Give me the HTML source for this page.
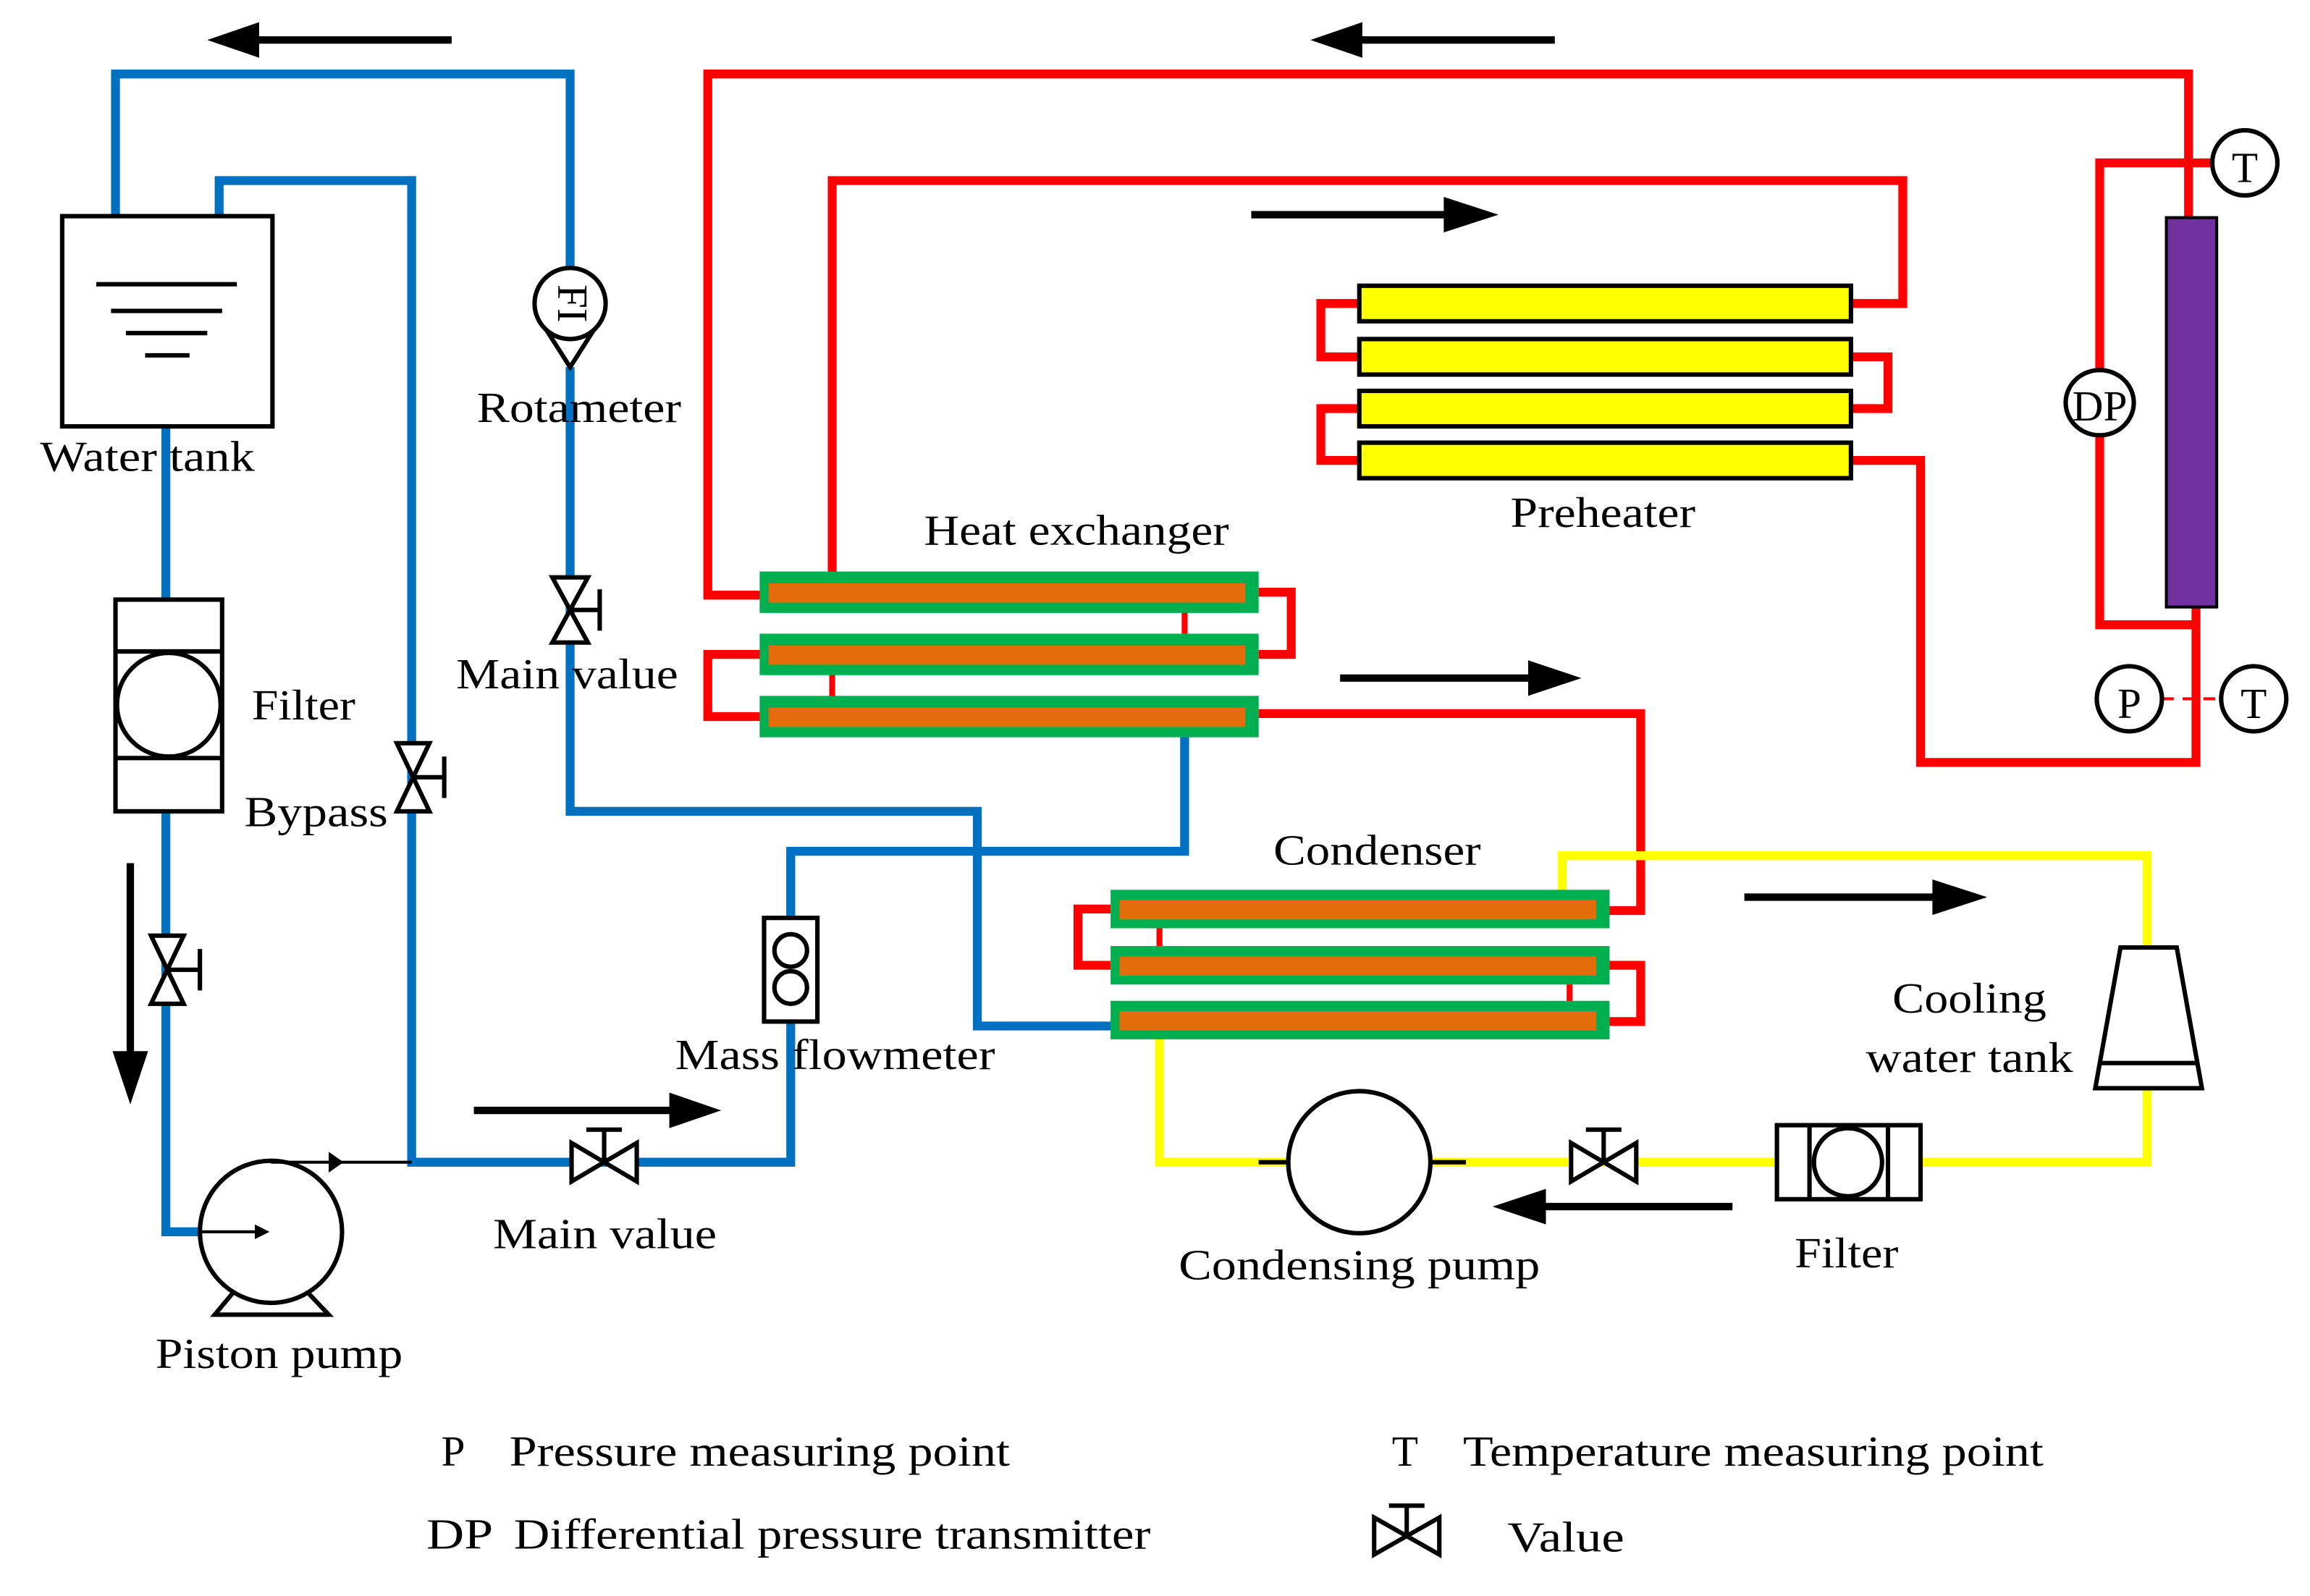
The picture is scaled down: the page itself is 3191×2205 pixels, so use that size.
<!DOCTYPE html>
<html><head><meta charset="utf-8"><style>
html,body{margin:0;padding:0;background:#fff;}
svg{display:block;}
text{font-family:"Liberation Serif",serif;font-size:29px;fill:#000;}
</style></head><body>
<svg width="3191" height="2205" viewBox="0 0 1560 1078" preserveAspectRatio="none" xmlns="http://www.w3.org/2000/svg">
<defs>
<marker id="ah" markerWidth="10" markerHeight="10" refX="8" refY="5" orient="auto" markerUnits="userSpaceOnUse"><path d="M0,0 L10,5 L0,10 z"/></marker>
</defs>
<g fill="none" stroke-linejoin="miter" stroke-linecap="butt">
<g stroke="#0070c0" stroke-width="6">
<polyline points="78,146 78,50 385,50 385,182"/>
<polyline points="385,248 385,548 660,548 660,693 752,693"/>
<polyline points="148,146 148,122 278,122 278,785 534,785 534,575 800,575 800,492"/>
<polyline points="534,620 534,575"/>
<polyline points="112,288 112,405"/>
<polyline points="112,548 112,832 135,832"/>
</g>
<g stroke="#ff0000" stroke-width="6">
<polyline points="515,402 478,402 478,50 1478,50 1478,147"/>
<polyline points="562,388 562,122 1285,122 1285,205 1250,205"/>
<polyline points="918,205 892,205 892,241 918,241"/>
<polyline points="1250,241 1275,241 1275,276 1250,276"/>
<polyline points="918,276 892,276 892,311 918,311"/>
<polyline points="1250,311 1297,311 1297,515 1483,515 1483,410"/>
<polyline points="1496,110 1418,110 1418,250"/>
<polyline points="1418,294 1418,422 1483,422"/>
<polyline points="850,400 872,400 872,442 850,442"/>
<polyline points="515,442 478,442 478,484 515,484"/>
<polyline points="850,482 1108,482 1108,615 1087,615"/>
<polyline points="750,614 728,614 728,652 750,652"/>
<polyline points="1087,652 1108,652 1108,690 1087,690"/>
<line x1="800" y1="410" x2="800" y2="432" stroke-width="4"/>
<line x1="562" y1="452" x2="562" y2="474" stroke-width="4"/>
<line x1="783" y1="624" x2="783" y2="646" stroke-width="4"/>
<line x1="1060" y1="662" x2="1060" y2="684" stroke-width="4"/>
<line x1="1460" y1="472" x2="1500" y2="472" stroke-width="2" stroke-dasharray="8,6"/>
</g>
<g stroke="#ffff00" stroke-width="6">
<polyline points="1055,601 1055,578 1450,578 1450,640"/>
<polyline points="1450,735 1450,785 1297,785"/>
<polyline points="1200,785 966,785"/>
<polyline points="870,785 783,785 783,702"/>
</g>
</g>
<g>
<rect x="513" y="386" width="337" height="28" fill="#00b050"/><rect x="519" y="394" width="322" height="13" fill="#e46c0a"/>
<rect x="513" y="428" width="337" height="28" fill="#00b050"/><rect x="519" y="436" width="322" height="13" fill="#e46c0a"/>
<rect x="513" y="470" width="337" height="28" fill="#00b050"/><rect x="519" y="478" width="322" height="13" fill="#e46c0a"/>
<rect x="750" y="601" width="337" height="26" fill="#00b050"/><rect x="756" y="608" width="322" height="13" fill="#e46c0a"/>
<rect x="750" y="639" width="337" height="26" fill="#00b050"/><rect x="756" y="646" width="322" height="13" fill="#e46c0a"/>
<rect x="750" y="676" width="337" height="26" fill="#00b050"/><rect x="756" y="683" width="322" height="13" fill="#e46c0a"/>
</g>
<g fill="#ffff00" stroke="#000" stroke-width="3">
<rect x="918" y="193" width="332" height="24"/><rect x="918" y="229" width="332" height="24"/>
<rect x="918" y="264" width="332" height="24"/><rect x="918" y="299" width="332" height="24"/>
</g>
<rect x="1463" y="147" width="34" height="263" fill="#7030a0" stroke="#000" stroke-width="2"/>
<g fill="#fff" stroke="#000" stroke-width="3">
<ellipse cx="1516" cy="110" rx="22" ry="22"/>
<ellipse cx="1418" cy="272" rx="23" ry="22"/>
<ellipse cx="1438" cy="472" rx="22" ry="22"/>
<ellipse cx="1522" cy="472" rx="22" ry="22"/>
</g>
<g text-anchor="middle">
<text x="1516" y="123" font-size="38">T</text>
<text x="1418" y="284" font-size="28">DP</text>
<text x="1438" y="485" font-size="38">P</text>
<text x="1522" y="485" font-size="38">T</text>
</g>
<g stroke="#000" stroke-width="3" fill="#fff">
<rect x="42" y="146" width="142" height="142"/>
<line x1="65" y1="192" x2="160" y2="192"/><line x1="75" y1="210" x2="150" y2="210"/>
<line x1="85" y1="225" x2="140" y2="225"/><line x1="98" y1="240" x2="128" y2="240"/>
<rect x="78" y="405" width="72" height="143"/>
<line x1="78" y1="440" x2="150" y2="440"/><line x1="78" y1="512" x2="150" y2="512"/>
<circle cx="114" cy="476" r="35"/>
<path d="M364,215 L385,248 L406,215" />
<circle cx="385" cy="205" r="24"/>
<rect x="516" y="620" width="36" height="70"/>
<circle cx="534" cy="642" r="11"/><circle cx="534" cy="667" r="11"/>
<path d="M145,888 L160,870 L205,870 L222,888 Z"/>
<circle cx="183" cy="832" r="48"/>
<line x1="183" y1="785" x2="278" y2="785" stroke-width="2"/>
<line x1="135" y1="832" x2="180" y2="832" stroke-width="2" marker-end="url(#ah)"/>
<circle cx="918" cy="785" r="48"/>
<line x1="850" y1="785" x2="870" y2="785"/><line x1="966" y1="785" x2="990" y2="785"/>
<rect x="1200" y="760" width="97" height="50"/>
<line x1="1222" y1="760" x2="1222" y2="810"/><line x1="1275" y1="760" x2="1275" y2="810"/>
<circle cx="1248" cy="785" r="23"/>
<path d="M1432,640 L1470,640 L1487,735 L1415,735 Z"/>
<line x1="1417" y1="718" x2="1485" y2="718"/>
</g>
<text x="385" y="205" font-size="24" transform="rotate(90 385 205)" text-anchor="middle" dy="8">FI</text>
<path d="M222,778 L232,785 L222,792 Z"/>
<g fill="#fff" stroke="#000" stroke-width="3">
<path d="M373,390 L397,390 L373,434 L397,434 Z"/><line x1="385" y1="412" x2="405" y2="412"/><line x1="405" y1="398" x2="405" y2="426"/>
<path d="M268,502 L290,502 L268,548 L290,548 Z"/><line x1="279" y1="525" x2="300" y2="525"/><line x1="300" y1="511" x2="300" y2="539"/>
<path d="M102,632 L124,632 L102,678 L124,678 Z"/><line x1="113" y1="655" x2="135" y2="655"/><line x1="135" y1="641" x2="135" y2="669"/>
<path d="M386,772 L386,798 L430,772 L430,798 Z"/><line x1="408" y1="785" x2="408" y2="763"/><line x1="396" y1="763" x2="420" y2="763"/>
<path d="M1061,772 L1061,798 L1105,772 L1105,798 Z"/><line x1="1083" y1="785" x2="1083" y2="763"/><line x1="1071" y1="763" x2="1095" y2="763"/>
<path d="M928,1025 L928,1050 L972,1025 L972,1050 Z"/><line x1="950" y1="1037" x2="950" y2="1017"/><line x1="938" y1="1017" x2="962" y2="1017"/>
</g>
<g stroke="#000" stroke-width="5" fill="#000">
<line x1="305" y1="27" x2="170" y2="27"/><path d="M140,27 L175,15 L175,39 Z" stroke="none"/>
<line x1="1050" y1="27" x2="918" y2="27"/><path d="M885,27 L920,15 L920,39 Z" stroke="none"/>
<line x1="845" y1="145" x2="980" y2="145"/><path d="M1012,145 L975,133 L975,157 Z" stroke="none"/>
<line x1="905" y1="458" x2="1035" y2="458"/><path d="M1068,458 L1032,446 L1032,470 Z" stroke="none"/>
<line x1="1178" y1="606" x2="1308" y2="606"/><path d="M1342,606 L1305,594 L1305,618 Z" stroke="none"/>
<line x1="1170" y1="815" x2="1040" y2="815"/><path d="M1008,815 L1044,803 L1044,827 Z" stroke="none"/>
<line x1="320" y1="750" x2="455" y2="750"/><path d="M487,750 L452,738 L452,762 Z" stroke="none"/>
<line x1="88" y1="583" x2="88" y2="712"/><path d="M88,746 L76,710 L100,710 Z" stroke="none"/>
</g>
<g lengthAdjust="spacingAndGlyphs">
<text x="27" y="318" textLength="145" lengthAdjust="spacingAndGlyphs">Water tank</text>
<text x="322" y="285" textLength="138" lengthAdjust="spacingAndGlyphs">Rotameter</text>
<text x="170" y="486" textLength="70" lengthAdjust="spacingAndGlyphs">Filter</text>
<text x="165" y="558" textLength="97" lengthAdjust="spacingAndGlyphs">Bypass</text>
<text x="308" y="465" textLength="150" lengthAdjust="spacingAndGlyphs">Main value</text>
<text x="624" y="368" textLength="206" lengthAdjust="spacingAndGlyphs">Heat exchanger</text>
<text x="1020" y="356" textLength="125" lengthAdjust="spacingAndGlyphs">Preheater</text>
<text x="860" y="584" textLength="140" lengthAdjust="spacingAndGlyphs">Condenser</text>
<text x="456" y="722" textLength="216" lengthAdjust="spacingAndGlyphs">Mass flowmeter</text>
<text x="1278" y="684" textLength="104" lengthAdjust="spacingAndGlyphs">Cooling</text>
<text x="1260" y="724" textLength="140" lengthAdjust="spacingAndGlyphs">water tank</text>
<text x="333" y="843" textLength="151" lengthAdjust="spacingAndGlyphs">Main value</text>
<text x="105" y="924" textLength="167" lengthAdjust="spacingAndGlyphs">Piston pump</text>
<text x="796" y="864" textLength="244" lengthAdjust="spacingAndGlyphs">Condensing pump</text>
<text x="1212" y="856" textLength="70" lengthAdjust="spacingAndGlyphs">Filter</text>
<text x="298" y="990">P</text>
<text x="344" y="990" textLength="338" lengthAdjust="spacingAndGlyphs">Pressure measuring point</text>
<text x="288" y="1046" textLength="45" lengthAdjust="spacingAndGlyphs">DP</text>
<text x="347" y="1046" textLength="430" lengthAdjust="spacingAndGlyphs">Differential pressure transmitter</text>
<text x="940" y="990">T</text>
<text x="988" y="990" textLength="392" lengthAdjust="spacingAndGlyphs">Temperature measuring point</text>
<text x="1018" y="1048" textLength="79" lengthAdjust="spacingAndGlyphs">Value</text>
</g>
</svg>
</body></html>
